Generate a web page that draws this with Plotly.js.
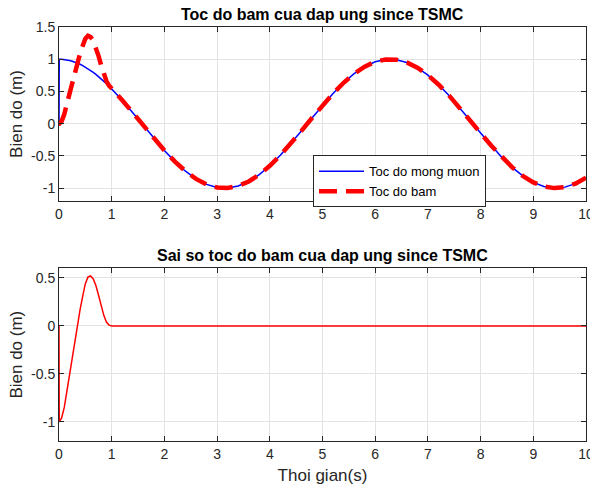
<!DOCTYPE html>
<html>
<head>
<meta charset="utf-8">
<script src="https://cdn.plot.ly/plotly-3.0.1.min.js"></script>
<style>html,body{margin:0;padding:0;background:#fff}#chart{width:590px;height:490px}</style>
</head>
<body>
<div id="chart"></div>
<script>
// Time samples for the top panel (s)
const timeTop = [0,0.005,0.05,0.1,0.15,0.2,0.25,0.3,0.35,0.4,0.45,0.5,0.55,0.6,0.65,0.7,0.75,0.8,0.85,0.9,0.95,1.0,
  1.2,1.4,1.6,1.8,2.0,2.2,2.4,2.6,2.8,3.0,3.2,3.4,3.6,3.8,4.0,4.2,4.4,4.6,4.8,5.0,5.2,5.4,5.6,5.8,6.0,6.2,6.4,6.6,6.8,7.0,
  7.2,7.4,7.6,7.8,8.0,8.2,8.4,8.6,8.8,9.0,9.2,9.4,9.6,9.8,10.0];
// Desired speed (Toc do mong muon)
const desired = [0,1.0,0.9988,0.995,0.9888,0.9801,0.9689,0.9553,0.9394,0.9211,0.9005,0.8776,0.8525,0.8253,0.7961,0.7648,0.7317,0.6967,0.66,0.6216,0.5817,0.5403,
  0.3624,0.17,-0.0292,-0.2272,-0.4162,-0.5885,-0.7374,-0.8569,-0.9422,-0.99,-0.9983,-0.9668,-0.8968,-0.791,-0.6536,-0.4903,-0.3073,-0.1122,0.0875,0.2837,
  0.4685,0.6347,0.7756,0.8855,0.9602,0.9965,0.9932,0.9502,0.8694,0.7539,0.6084,0.4386,0.2513,0.054,-0.1455,-0.3392,-0.5193,-0.6787,-0.8111,-0.9111,
  -0.9748,-0.9997,-0.9847,-0.9305,-0.8391];
// Tracked speed (Toc do bam)
const tracked = [0,0.0,0.039,0.145,0.309,0.48,0.649,0.805,0.939,1.091,1.21,1.318,1.363,1.345,1.286,1.185,1.052,0.907,0.77,0.662,0.59,0.5403,
  0.3624,0.17,-0.0292,-0.2272,-0.4162,-0.5885,-0.7374,-0.8569,-0.9422,-0.99,-0.9983,-0.9668,-0.8968,-0.791,-0.6536,-0.4903,-0.3073,-0.1122,0.0875,0.2837,
  0.4685,0.6347,0.7756,0.8855,0.9602,0.9965,0.9932,0.9502,0.8694,0.7539,0.6084,0.4386,0.2513,0.054,-0.1455,-0.3392,-0.5193,-0.6787,-0.8111,-0.9111,
  -0.9748,-0.9997,-0.9847,-0.9305,-0.8391];
// Tracking error (bottom panel)
const timeErr = [0,0.005,0.05,0.1,0.15,0.2,0.25,0.3,0.35,0.4,0.45,0.5,0.55,0.6,0.65,0.7,0.75,0.8,0.85,0.9,0.95,1.0,10.0];
const errorVals = [0,-1,-0.96,-0.85,-0.68,-0.5,-0.32,-0.15,0,0.17,0.31,0.44,0.51,0.52,0.49,0.42,0.32,0.21,0.11,0.04,0.008,0,0];

const xTicks = [0,1,2,3,4,5,6,7,8,9,10];
const xTickText = ['0','1','2','3','4','5','6','7','8','9','10'];
const yTopTicks = [-1,-0.5,0,0.5,1,1.5];
const yTopText = ['-1','-0.5','0','0.5','1','1.5'];
const yBotTicks = [-1,-0.5,0,0.5];
const yBotText = ['-1','-0.5','0','0.5'];

const titleTop = 'Toc do bam cua dap ung since TSMC';
const titleBot = 'Sai so toc do bam cua dap ung since TSMC';
const yTitle = 'Bien do (m)';
const xTitle = 'Thoi gian(s)';
const nameDesired = 'Toc do mong muon';
const nameTracked = 'Toc do bam';

const FONT = '"Liberation Sans", Arial, Helvetica, sans-serif';
const AX = '#262626';

const traces = [
  {x: timeTop, y: desired, name: nameDesired, type: 'scatter', mode: 'lines',
   line: {color: '#0000ff', width: 1.5}, xaxis: 'x', yaxis: 'y'},
  {x: timeTop, y: tracked, name: nameTracked, type: 'scatter', mode: 'lines',
   line: {color: '#ff0000', width: 4.5, dash: '18px,9px'}, xaxis: 'x', yaxis: 'y'},
  {x: timeErr, y: errorVals, name: 'error', type: 'scatter', mode: 'lines', showlegend: false,
   line: {color: '#ff0000', width: 1.5}, xaxis: 'x2', yaxis: 'y2'}
];

function axisBase() {
  return {
    showline: true, linecolor: AX, linewidth: 1, mirror: 'allticks',
    ticks: 'inside', ticklen: 5, tickcolor: AX, tickwidth: 1,
    showgrid: true, gridcolor: '#e3e3e3', gridwidth: 1, zeroline: false,
    ticklabeloverflow: 'allow',
    tickfont: {family: FONT, size: 14, color: AX}
  };
}

const layout = {
  width: 590, height: 490,
  margin: {l: 59, r: 4, t: 27, b: 49},
  paper_bgcolor: '#ffffff', plot_bgcolor: '#ffffff',
  font: {family: FONT, color: AX},
  showlegend: true,
  legend: {x: 0.482, y: 0.69, xanchor: 'left', yanchor: 'top',
    bgcolor: '#ffffff', bordercolor: AX, borderwidth: 1,
    font: {family: FONT, size: 13, color: '#000'}, tracegroupgap: 0, itemwidth: 45},
  xaxis: Object.assign(axisBase(), {domain: [0, 1], range: [0, 10], anchor: 'y',
    tickvals: xTicks, ticktext: xTickText}),
  yaxis: Object.assign(axisBase(), {domain: [0.5797, 1], range: [-1.2, 1.5], anchor: 'x',
    tickvals: yTopTicks, ticktext: yTopText,
    title: {text: yTitle, font: {family: FONT, size: 17, color: AX}, standoff: 4}}),
  xaxis2: Object.assign(axisBase(), {domain: [0, 1], range: [0, 10], anchor: 'y2',
    tickvals: xTicks, ticktext: xTickText,
    title: {text: xTitle, font: {family: FONT, size: 17, color: AX}, standoff: 8}}),
  yaxis2: Object.assign(axisBase(), {domain: [0, 0.4171], range: [-1.2, 0.6], anchor: 'x2',
    tickvals: yBotTicks, ticktext: yBotText,
    title: {text: yTitle, font: {family: FONT, size: 17, color: AX}, standoff: 4}}),
  annotations: [
    {text: '<b>' + titleTop + '</b>', xref: 'paper', yref: 'paper', x: 0.5, y: 1, yanchor: 'bottom',
     yshift: 2, showarrow: false, font: {family: FONT, size: 16, color: '#000'}},
    {text: '<b>' + titleBot + '</b>', xref: 'paper', yref: 'paper', x: 0.5, y: 0.4171, yanchor: 'bottom',
     yshift: 2, showarrow: false, font: {family: FONT, size: 16, color: '#000'}}
  ]
};

Plotly.newPlot('chart', traces, layout, {displayModeBar: false, staticPlot: true});
</script>
</body>
</html>
